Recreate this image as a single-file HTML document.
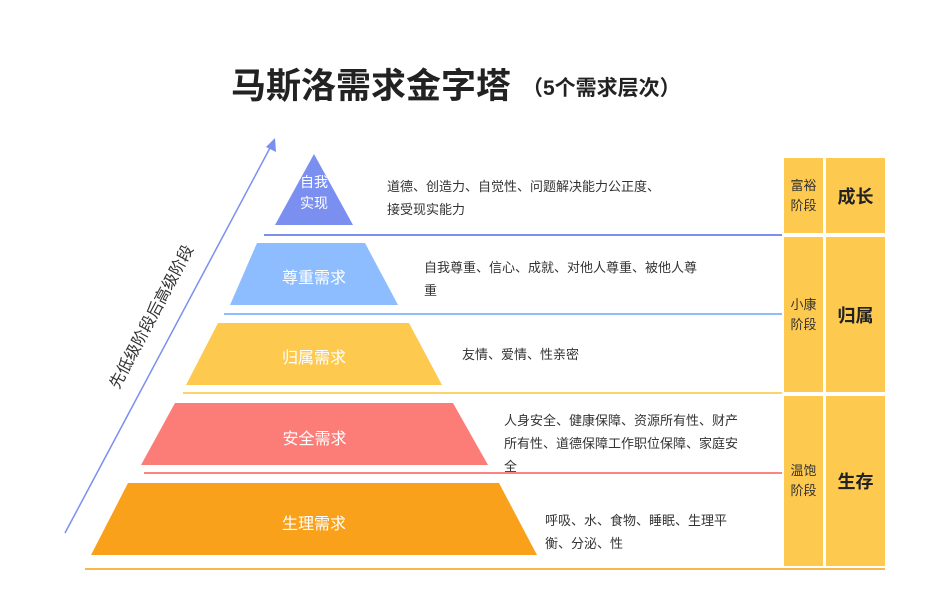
<!DOCTYPE html>
<html><head><meta charset="utf-8"><style>
body{margin:0;width:930px;height:612px;background:#fff;position:relative;overflow:hidden;font-family:"Liberation Sans","Noto Sans CJK SC",sans-serif;}
.a{position:absolute;}
.d{font-size:13px;color:#333;line-height:23px;}
.lbl{font-size:16px;color:#fff;text-align:center;}
.c{position:absolute;background:#fdc94f;display:flex;align-items:center;justify-content:center;text-align:center;color:#333;}
.s{font-size:13px;line-height:20px;}
.b{font-size:18px;font-weight:bold;color:#222;}
</style></head><body>
<div class="a" style="left:231px;top:58px;font-size:35px;font-weight:bold;color:#222;white-space:nowrap;letter-spacing:0px;">马斯洛需求金字塔</div>
<div class="a" style="left:522px;top:72px;font-size:21px;font-weight:bold;color:#222;white-space:nowrap;">（5个需求层次）</div>
<svg class="a" style="left:0;top:0" width="930" height="612">
<line x1="264" y1="235" x2="782" y2="235" stroke="#7b8ff0" stroke-width="2"/>
<line x1="224" y1="314" x2="782" y2="314" stroke="#8dbdff" stroke-width="2"/>
<line x1="183" y1="393" x2="782" y2="393" stroke="#fcd36a" stroke-width="2"/>
<line x1="144" y1="473" x2="782" y2="473" stroke="#fc8582" stroke-width="2"/>
<line x1="85" y1="569" x2="885" y2="569" stroke="#f6b84a" stroke-width="2"/>
<polygon points="314,154 353,225 275,225" fill="#7b8ff0"/>
<polygon points="257,243 365,243 398,305 230,305" fill="#8dbdff"/>
<polygon points="218,323 409,323 442,385 186,385" fill="#fdc94f"/>
<polygon points="175,403 453,403 488,465 141,465" fill="#fc7c78"/>
<polygon points="128,483 499,483 537,555 91,555" fill="#f9a11b"/>
<line x1="65" y1="533" x2="271" y2="146" stroke="#7b8ff0" stroke-width="1.5"/>
<polygon points="275,138 276,152 266,147" fill="#7b8ff0"/>
</svg>
<div class="a lbl" style="left:284px;top:172px;width:60px;font-size:14px;line-height:21px;">自我<br>实现</div>
<div class="a lbl" style="left:230px;top:264px;width:168px;">尊重需求</div>
<div class="a lbl" style="left:186px;top:344px;width:256px;">归属需求</div>
<div class="a lbl" style="left:141px;top:425px;width:347px;">安全需求</div>
<div class="a lbl" style="left:91px;top:510px;width:446px;">生理需求</div>
<div class="a d" style="left:387px;top:175px;width:300px;">道德、创造力、自觉性、问题解决能力公正度、<br>接受现实能力</div>
<div class="a d" style="left:424px;top:256px;width:300px;">自我尊重、信心、成就、对他人尊重、被他人尊<br>重</div>
<div class="a d" style="left:462px;top:343px;">友情、爱情、性亲密</div>
<div class="a d" style="left:504px;top:409px;width:240px;">人身安全、健康保障、资源所有性、财产<br>所有性、道德保障工作职位保障、家庭安<br>全</div>
<div class="a d" style="left:545px;top:509px;width:210px;">呼吸、水、食物、睡眠、生理平<br>衡、分泌、性</div>
<div class="a" style="left:70px;top:304px;font-size:16px;color:#333;white-space:nowrap;transform:rotate(-62deg);transform-origin:center;width:160px;text-align:center;">先低级阶段后高级阶段</div>
<div class="c s" style="left:784px;top:158px;width:39px;height:75px;">富裕<br>阶段</div>
<div class="c b" style="left:826px;top:158px;width:59px;height:75px;">成长</div>
<div class="c s" style="left:784px;top:237px;width:39px;height:155px;">小康<br>阶段</div>
<div class="c b" style="left:826px;top:237px;width:59px;height:155px;">归属</div>
<div class="c s" style="left:784px;top:396px;width:39px;height:170px;">温饱<br>阶段</div>
<div class="c b" style="left:826px;top:396px;width:59px;height:170px;">生存</div>
</body></html>
